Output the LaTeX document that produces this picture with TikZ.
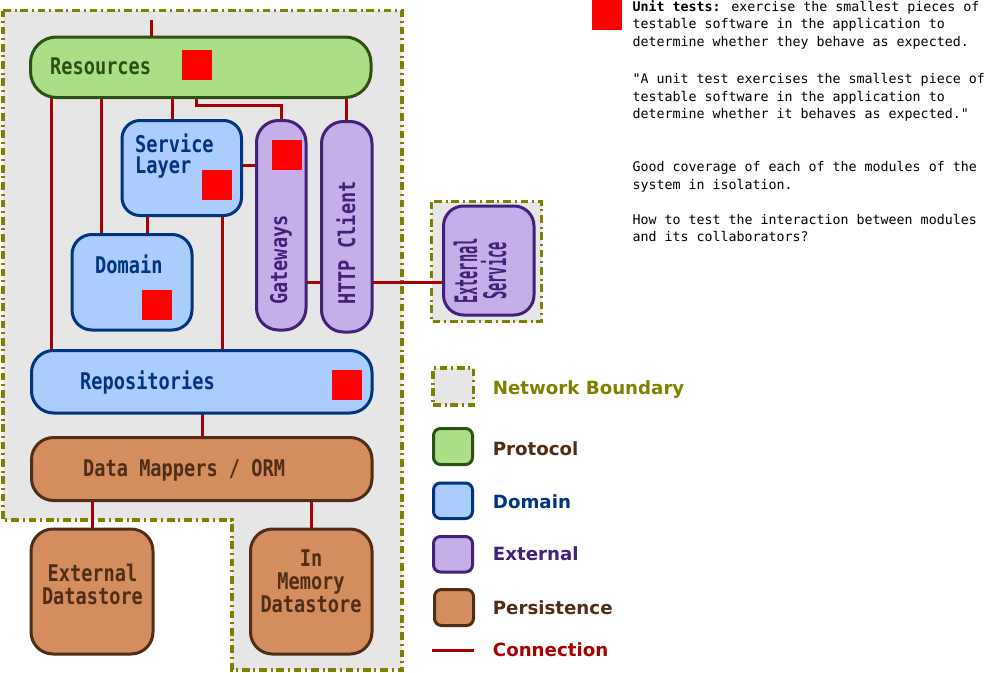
\documentclass[tikz,border=0pt]{standalone}
\usepackage{fontspec}
\newfontfamily\boxfont[FakeStretch=0.81]{DejaVu Sans Mono}
\newfontfamily\thinfont[FakeStretch=0.44]{DejaVu Sans Mono}
\newfontfamily\legfont{DejaVu Sans}
\newfontfamily\notefont[Ligatures=TeXOff]{DejaVu Sans Mono}
\definecolor{protofill}{HTML}{AADE87}
\definecolor{protoline}{HTML}{2D5016}
\definecolor{domfill}{HTML}{AACCFF}
\definecolor{domline}{HTML}{003380}
\definecolor{extfill}{HTML}{C6AFE9}
\definecolor{extline}{HTML}{442178}
\definecolor{perfill}{HTML}{D38D5F}
\definecolor{perline}{HTML}{502D16}
\definecolor{netfill}{HTML}{E6E6E6}
\definecolor{netline}{HTML}{808000}
\definecolor{connline}{HTML}{AA0000}
\pgfdeclarelayer{bg}
\pgfsetlayers{bg,main}
\begin{document}
\begin{tikzpicture}[x=1pt, y=-1pt,
    box/.style={line width=3pt, inner sep=0pt, outer sep=0pt},
    proto/.style={box, draw=protoline, fill=protofill},
    dom/.style={box, draw=domline, fill=domfill},
    ext/.style={box, draw=extline, fill=extfill},
    pers/.style={box, draw=perline, fill=perfill},
    net/.style={draw=netline, fill=netfill, line width=3.5pt, dash pattern=on 7.7pt off 3.8pt on 2pt off 3.8pt},
    sq/.style={fill=red, minimum size=30pt, inner sep=0pt},
    conn/.style={draw=connline, line width=3pt},
    lbl/.style={font=\boxfont\bfseries\fontsize{23}{23}\selectfont, inner sep=0pt},
    leg/.style={font=\legfont\bfseries\fontsize{18.2}{20}\selectfont, inner sep=0pt, anchor=base west}]
  \useasboundingbox (0,0) rectangle (985,672);
  % network boundaries
  \begin{pgfonlayer}{bg}
    \draw[net] (3,10.5) -- (402,10.5) -- (402,670) -- (232,670) -- (232,520) -- (3,520) -- cycle;
    \draw[net] (431.5,201.5) rectangle (541.5,321.5);
  \end{pgfonlayer}
  % protocol
  \node[proto, rounded corners=26pt, minimum width=340.5, minimum height=60.5] at (200.75,67.25) (R) {};
  \node[lbl, text=protoline, anchor=base west] at (50,74.5) (tR) {Resources};
  \node[sq] at (196.7,65) (sqR) {};
  % domain
  \node[dom, rounded corners=18pt, minimum width=119.5, minimum height=95] at (181.75,168) (S) {};
  \node[lbl, text=domline, anchor=north west, align=left, font=\boxfont\bfseries\fontsize{23}{20.5}\selectfont] at (135,134) (tS) {Service\\Layer};
  \node[sq] at (216.7,185) (sqS) {};
  \node[dom, rounded corners=20pt, minimum width=120, minimum height=95.5] at (132,282.25) (D) {};
  \node[lbl, text=domline, anchor=base west] at (95,273.5) (tD) {Domain};
  \node[sq] at (156.7,305) (sqD) {};
  \node[dom, rounded corners=22pt, minimum width=340.5, minimum height=62.5] at (201.75,381.75) (Rep) {};
  \node[lbl, text=domline, anchor=base west] at (80,389.5) (tRep) {Repositories};
  \node[sq] at (346.7,385) (sqRep) {};
  % external
  \node[ext, rounded corners=22pt, minimum width=49.5, minimum height=209.5] at (281.25,225.25) (G) {};
  \node[lbl, text=extline, rotate=90] at (281,260) (tG) {Gateways};
  \node[sq] at (286.7,155) (sqG) {};
  \node[ext, rounded corners=22pt, minimum width=50.5, minimum height=210.5] at (346.75,226.75) (H) {};
  \node[lbl, text=extline, rotate=90] at (346,243) (tH) {HTTP Client};
  \node[ext, rounded corners=20pt, minimum width=90.5, minimum height=109] at (488.75,260.5) (ES) {};
  \node[lbl, text=extline, rotate=90, align=center, font=\thinfont\bfseries\fontsize{31}{29}\selectfont] at (480,271) (tES) {External\\Service};
  % persistence
  \node[pers, rounded corners=22pt, minimum width=340.5, minimum height=63] at (201.75,469) (DM) {};
  \node[lbl, text=perline, anchor=base west] at (83,476.7) (tDM) {Data Mappers / ORM};
  \node[pers, rounded corners=22pt, minimum width=122, minimum height=125] at (92,591.5) (ED) {};
  \node[lbl, text=perline, anchor=north, align=center] at (92.5,563.6) (tED) {External\\Datastore};
  \node[pers, rounded corners=22pt, minimum width=121.5, minimum height=125] at (311.25,591.5) (IM) {};
  \node[lbl, text=perline, anchor=north, align=center] at (311,550) (tIM) {In\\Memory\\Datastore};
  % connections
  \coordinate (top) at (151,20);
  \begin{pgfonlayer}{bg}
    \draw[conn] (top) -- (R.north -| top);
    \draw[conn] (R.south -| 51,0) -- (Rep.north -| 51,0);
    \draw[conn] (R.south -| 101,0) -- (D.north -| 101,0);
    \draw[conn] (R.south -| 172,0) -- (S.north -| 172,0);
    \draw[conn] (R.south -| 196,0) -- ++(0,7.5) -| (G.north);
    \draw[conn] (R.south -| H.north) -- (H.north);
    \draw[conn] (S.east |- 0,165) -- (G.west |- 0,165);
    \draw[conn] (S.south -| 147,0) -- (D.north -| 147,0);
    \draw[conn] (S.south -| 222,0) -- (Rep.north -| 222,0);
    \draw[conn] (G.east |- 0,282) -- (H.west |- 0,282);
    \draw[conn] (H.east |- 0,282) -- (ES.west |- 0,282);
    \draw[conn] (Rep.south -| 202,0) -- (DM.north -| 202,0);
    \draw[conn] (DM.south -| ED.north) -- (ED.north);
    \draw[conn] (DM.south -| IM.north) -- (IM.north);
  \end{pgfonlayer}
  % legend
  \node[net, minimum width=40.5, minimum height=37, inner sep=0pt] at (453.25,386.5) (L0) {};
  \node[leg, text=netline] at (492.7,394) (tL0) {Network Boundary};
  \node[proto, rounded corners=7pt, minimum width=39, minimum height=36] at (453,446.5) (L1) {};
  \node[leg, text=perline] at (492.7,455) (tL1) {Protocol};
  \node[dom, rounded corners=7pt, minimum width=39, minimum height=35.5] at (453,500.75) (L2) {};
  \node[leg, text=domline] at (492.7,508.3) (tL2) {Domain};
  \node[ext, rounded corners=7pt, minimum width=39, minimum height=35.5] at (453,554.25) (L3) {};
  \node[leg, text=extline] at (492.7,560.7) (tL3) {External};
  \node[pers, rounded corners=7pt, minimum width=39, minimum height=36] at (454,607.5) (L4) {};
  \node[leg, text=perline] at (492.7,614) (tL4) {Persistence};
  \coordinate (c1) at (432,650.7);
  \coordinate (c2) at (474,650.7);
  \draw[conn] (c1) -- (c2);
  \node[leg, text=connline] at (492.7,656.7) (tL5) {Connection};
  % unit tests note
  \node[sq] at (607,15) (sqN) {};
  \node[anchor=north west, align=left, inner sep=0pt, font=\notefont\fontsize{13.3}{17.5}\selectfont] at (632.3,0) (note)
    {\textbf{Unit tests:} exercise the smallest pieces of\\
     testable software in the application to\\
     determine whether they behave as expected.\\[20pt]
     "A unit test exercises the smallest piece of\\
     testable software in the application to\\
     determine whether it behaves as expected."\\[35.5pt]
     Good coverage of each of the modules of the\\
     system in isolation.\\[17.5pt]
     How to test the interaction between modules\\
     and its collaborators?};
\end{tikzpicture}
\end{document}
